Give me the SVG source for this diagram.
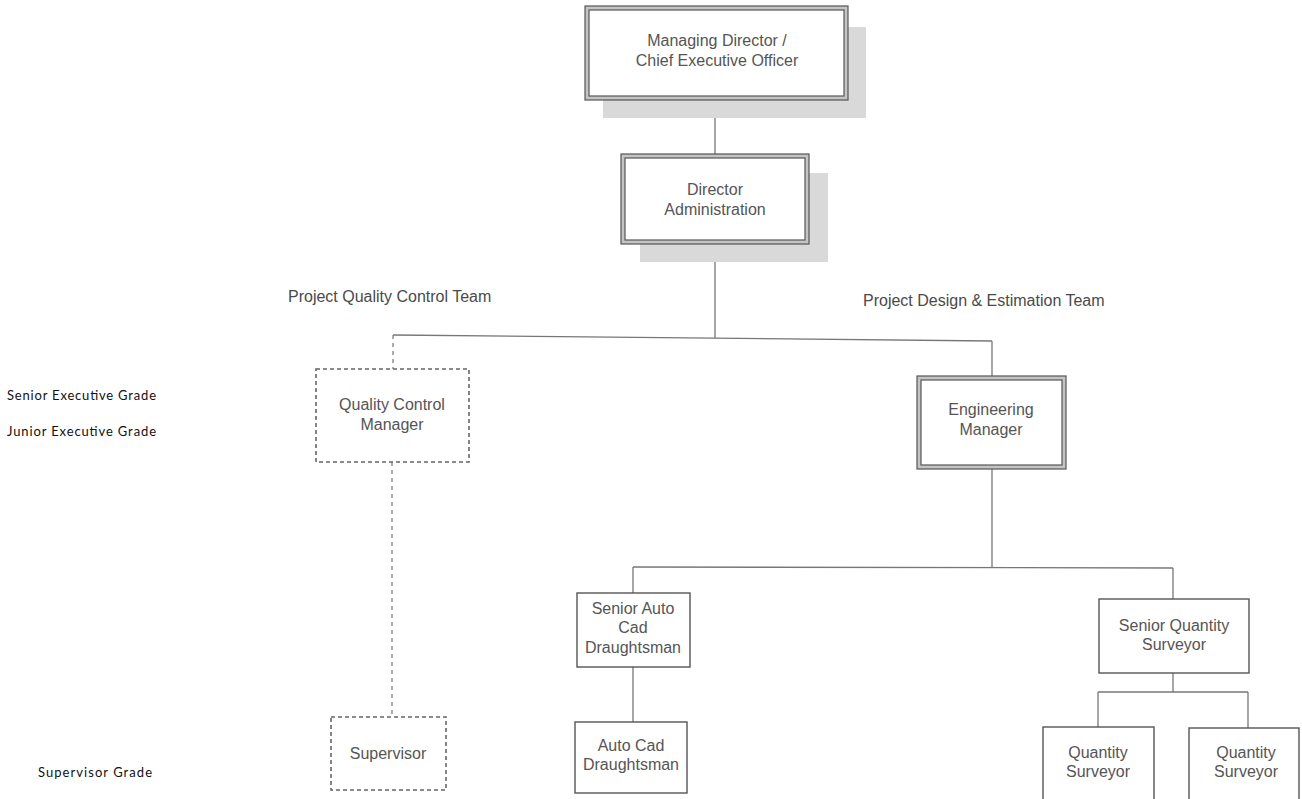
<svg xmlns="http://www.w3.org/2000/svg" width="1302" height="799" viewBox="0 0 1302 799">
<style>
.bg{fill:#fff}
.shadow{fill:#d9d9d9}
.dblo{fill:#c4c4c4;stroke:#555;stroke-width:1.2}
.dbli{fill:#fff;stroke:#555;stroke-width:1.2}
.box{fill:#fff;stroke:#555;stroke-width:1.4}
.dash{fill:#fff;stroke:#666;stroke-width:1.6;stroke-dasharray:4 3}
.ln{fill:none;stroke:#777;stroke-width:1.3}
.dln{fill:none;stroke:#888;stroke-width:1.4;stroke-dasharray:4 4}
.t{font-family:"Liberation Sans",Arial,sans-serif;font-size:16px;fill:#555;text-anchor:middle}
.h{font-family:"Liberation Sans",Arial,sans-serif;font-size:16px;fill:#4a4a4a}
.g{font-family:Lato,"Open Sans",sans-serif;font-size:13px;fill:#111}
</style>
<rect class="bg" x="0" y="0" width="1302" height="799"/>
<g id="connectors">
<line class="ln" x1="715" y1="100" x2="715" y2="154"/>
<line class="ln" x1="715" y1="244" x2="715" y2="338"/>
<line class="ln" x1="393" y1="335" x2="992" y2="341"/>
<line class="ln" x1="992" y1="341" x2="992" y2="376"/>
<line class="dln" x1="393" y1="335" x2="393" y2="369"/>
<line class="dln" x1="392" y1="462" x2="392" y2="717"/>
<line class="ln" x1="992" y1="469" x2="992" y2="567"/>
<line class="ln" x1="633" y1="567" x2="1173" y2="568"/>
<line class="ln" x1="633" y1="567" x2="633" y2="593"/>
<line class="ln" x1="1173" y1="568" x2="1173" y2="599"/>
<line class="ln" x1="633" y1="667" x2="633" y2="722"/>
<line class="ln" x1="1173" y1="673" x2="1173" y2="692"/>
<line class="ln" x1="1098" y1="692" x2="1248" y2="692"/>
<line class="ln" x1="1098" y1="692" x2="1098" y2="727"/>
<line class="ln" x1="1248" y1="692" x2="1248" y2="728"/>
</g>
<g id="labels">
<text class="h" x="288" y="302">Project Quality Control Team</text>
<text class="h" x="863" y="306">Project Design &amp; Estimation Team</text>
<text class="g" x="7" y="400" textLength="149">Senior Executive Grade</text>
<text class="g" x="7" y="436" textLength="149">Junior Executive Grade</text>
<text class="g" x="38" y="777" textLength="114">Supervisor Grade</text>
</g>
<g id="md">
<rect class="shadow" x="603" y="27" width="263" height="91"/>
<rect class="dblo" x="585" y="6" width="263" height="94"/>
<rect class="dbli" x="589" y="10" width="255" height="86"/>
<text class="t" x="717" y="46">Managing Director /</text>
<text class="t" x="717" y="66">Chief Executive Officer</text>
</g>
<g id="director">
<rect class="shadow" x="640" y="173" width="188" height="89"/>
<rect class="dblo" x="621" y="154" width="188" height="90"/>
<rect class="dbli" x="625" y="158" width="180" height="82"/>
<text class="t" x="715" y="195">Director</text>
<text class="t" x="715" y="215">Administration</text>
</g>
<g id="qcm">
<rect class="dash" x="316" y="369" width="153" height="93"/>
<text class="t" x="392" y="410">Quality Control</text>
<text class="t" x="392" y="430">Manager</text>
</g>
<g id="supervisor">
<rect class="dash" x="331" y="717" width="115" height="73"/>
<text class="t" x="388" y="759">Supervisor</text>
</g>
<g id="em">
<rect class="dblo" x="917" y="376" width="149" height="93"/>
<rect class="dbli" x="921" y="380" width="141" height="85"/>
<text class="t" x="991" y="415">Engineering</text>
<text class="t" x="991" y="435">Manager</text>
</g>
<g id="sacd">
<rect class="box" x="577" y="593" width="113" height="74"/>
<text class="t" x="633" y="614">Senior Auto</text>
<text class="t" x="633" y="633">Cad</text>
<text class="t" x="633" y="653">Draughtsman</text>
</g>
<g id="acd">
<rect class="box" x="575" y="722" width="112" height="71"/>
<text class="t" x="631" y="751">Auto Cad</text>
<text class="t" x="631" y="770">Draughtsman</text>
</g>
<g id="sqs">
<rect class="box" x="1099" y="599" width="150" height="74"/>
<text class="t" x="1174" y="631">Senior Quantity</text>
<text class="t" x="1174" y="650">Surveyor</text>
</g>
<g id="qs1">
<rect class="box" x="1043" y="727" width="111" height="76"/>
<text class="t" x="1098" y="758">Quantity</text>
<text class="t" x="1098" y="777">Surveyor</text>
</g>
<g id="qs2">
<rect class="box" x="1189" y="728" width="110" height="76"/>
<text class="t" x="1246" y="758">Quantity</text>
<text class="t" x="1246" y="777">Surveyor</text>
</g>
</svg>
